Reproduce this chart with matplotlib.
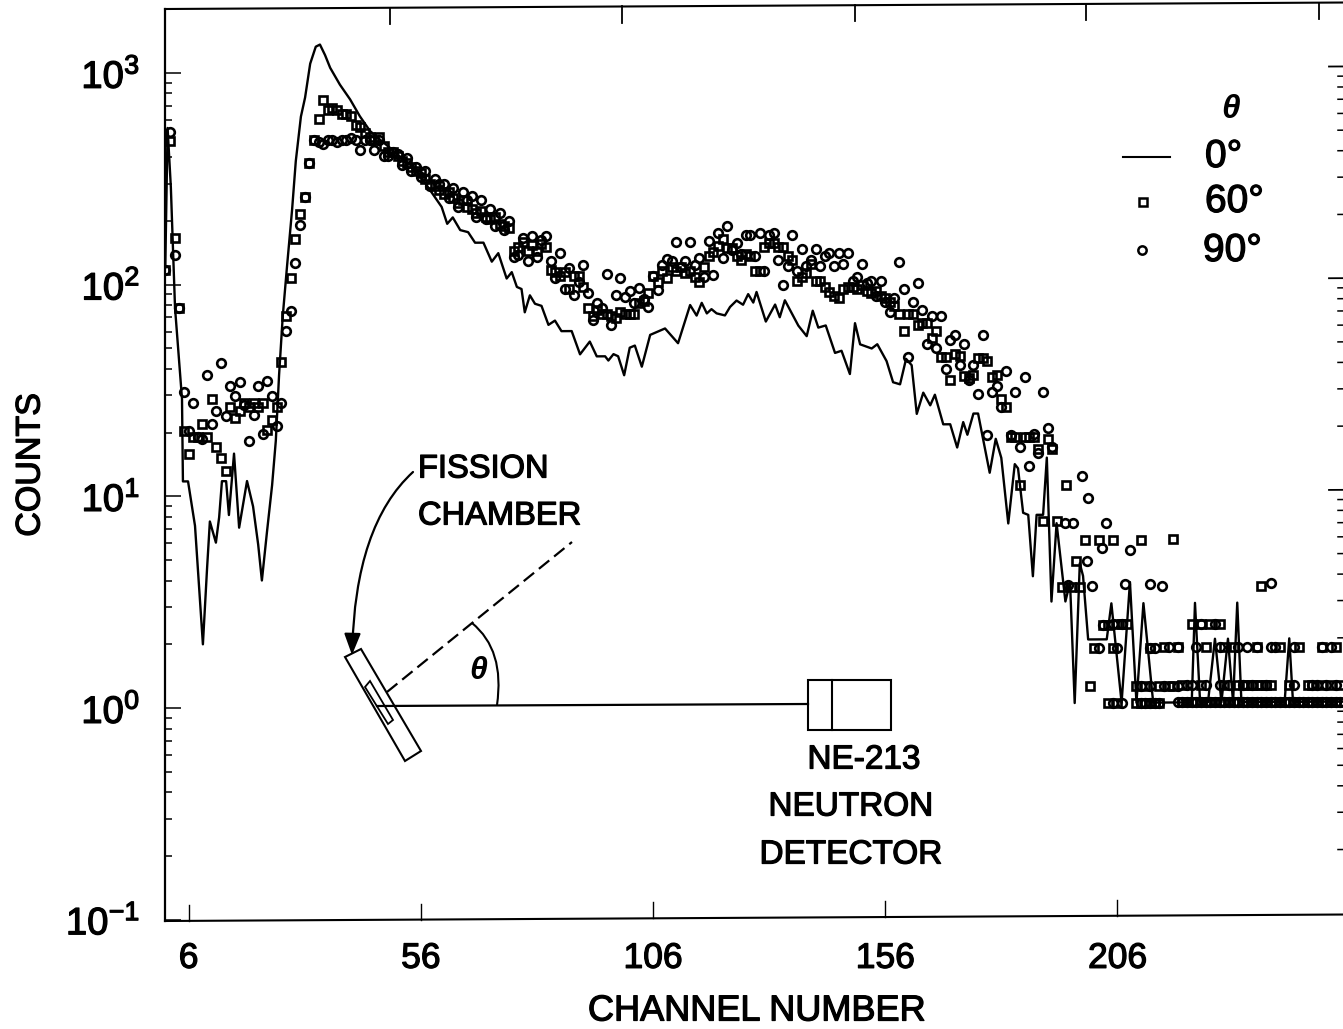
import matplotlib
matplotlib.use('Agg')
import matplotlib.pyplot as plt
import matplotlib.patheffects as pe
import numpy as np
from matplotlib.path import Path
from matplotlib.patches import FancyArrowPatch, PathPatch, Polygon, Rectangle
from matplotlib.ticker import LogLocator, NullFormatter
from matplotlib.transforms import Affine2D

plt.rcParams['font.family'] = ['Liberation Sans', 'DejaVu Sans']
plt.rcParams['mathtext.fontset'] = 'custom'
plt.rcParams['mathtext.rm'] = 'Liberation Sans'
plt.rcParams['mathtext.default'] = 'regular'

# 0 degree curve, read by eye: channel and log10(counts)
line_ch = [1, 1.5, 2.2, 3.1, 4.6, 4.8, 5.9, 7.4, 9.1, 10, 10.6, 11.9, 12.6, 13.2, 14.1, 14.7, 15.8, 16.9,
           18.6, 19.9, 21, 21.8, 22.9, 24, 24.8, 25.5, 26.3, 27.2, 28.3, 29.1, 30.2, 31.1, 32.2, 33.4,
           34.3, 35.4, 36.5, 38.6, 40.8, 42.9, 45.1, 47.2, 49.4, 51.5, 53.7, 55.8, 58, 60.5, 61.7, 62.9,
           64.5, 66.2, 67.7, 69.5, 71.3, 72.7, 74.5, 75.6, 76.7, 77.7, 78.4, 79.5, 80.6, 82, 83.5, 84.9,
           86.3, 88.5, 90.3, 92.4, 93.9, 95.7, 96.4, 97.5, 98.5, 99.8, 101, 102.1, 103.6, 105.4, 108.6,
           111.4, 114, 115.4, 116.5, 117.6, 118.6, 119.7, 121.5, 122.6, 124, 125.4, 126.5, 127.6, 128.3,
           130.3, 132.3, 133.3, 134.4, 137.3, 139.1, 140.4, 141.6, 143.2, 145.2, 146.6, 148.4, 149.5,
           150.6, 153.1, 154.3, 156.3, 157.7, 159.2, 160.5, 161.7, 162.8, 164.2, 165.7, 166.7, 168.5,
           170, 171.5, 172.8, 173.7, 175, 176, 178.5, 179.8, 181, 182.5, 183.9, 184.6, 185.7, 186.8,
           187.8, 188.6, 190, 190.8, 191.8, 192.9, 194.8, 195.8, 196.8, 197.9, 198.6, 199.7, 203.7,
           204.7, 206.9, 208.7, 210.1, 211.6, 213.7, 222, 222.7, 223.8, 225.5, 227, 228.4, 229.8, 230.9,
           231.8, 232.7, 242, 243, 243.8, 254.6]
line_log = [2.08, 2.74, 2.46, 1.89, 1.46, 1.07, 1.07, 0.86, 0.30, 0.66, 0.88, 0.78, 0.90, 1.07, 1.07, 0.91, 1.20, 0.85,
            1.07, 0.95, 0.77, 0.60, 0.83, 1.05, 1.26, 1.57, 1.85, 2.08, 2.35, 2.58, 2.79, 2.88, 3.04, 3.12,
            3.13, 3.08, 3.02, 2.94, 2.87, 2.79, 2.72, 2.68, 2.64, 2.60, 2.56, 2.51, 2.44, 2.36, 2.28, 2.31,
            2.25, 2.24, 2.19, 2.19, 2.10, 2.14, 2.02, 2.05, 1.98, 1.97, 1.86, 1.94, 1.90, 1.89, 1.80, 1.82,
            1.77, 1.77, 1.66, 1.72, 1.65, 1.65, 1.63, 1.66, 1.65, 1.56, 1.69, 1.70, 1.60, 1.75, 1.78,
            1.71, 1.89, 1.84, 1.90, 1.85, 1.87, 1.85, 1.84, 1.88, 1.91, 1.89, 1.94, 1.90, 1.95,
            1.81, 1.89, 1.83, 1.91, 1.79, 1.74, 1.86, 1.78, 1.79, 1.66, 1.67, 1.56, 1.80,
            1.70, 1.68, 1.70, 1.62, 1.52, 1.51, 1.63, 1.60, 1.37, 1.47, 1.41, 1.46, 1.32,
            1.32, 1.21, 1.33, 1.27, 1.37, 1.37, 1.09, 1.25, 1.16, 0.85, 1.13, 1.11, 0.90, 0.89,
            0.60, 0.89, 0.89, 1.16, 0.48, 0.85, 0.48, 0.57, 0.00, 0.66, 0.60, 0.30, 0.30,
            0.47, 0.00, 0.57, 0.00, 0.47, 0.00, 0.00, 0.47, 0.00, 0.00, 0.30, 0.00, 0.30, 0.00,
            0.47, 0.00, 0.00, 0.30, 0.00, 0.00]

# 60 degrees, one value per channel starting at channel 1
sq_log = [2.07, 2.68, 2.22, 1.89, 1.31, 1.20, 1.28, 1.28, 1.34, 1.28,
          1.46, 1.23, 1.18, 1.12, 1.42, 1.37, 1.40, 1.44, 1.42, 1.44,
          1.42, 1.44, 1.31, 1.36, 1.42, 1.63, 1.85, 2.03, 2.21, 2.33,
          2.41, 2.57, 2.68, 2.78, 2.87, 2.82, 2.83, 2.82, 2.80, 2.80,
          2.79, 2.75, 2.74, 2.71, 2.69, 2.68, 2.69, 2.65, 2.62, 2.62,
          2.60, 2.58, 2.57, 2.55, 2.53, 2.52, 2.49, 2.47, 2.46, 2.44,
          2.42, 2.43, 2.40, 2.38, 2.39, 2.36, 2.35, 2.33, 2.34, 2.31,
          2.30, 2.31, 2.28, 2.27, 2.26, 2.15, 2.17, 2.19, 2.15, 2.18,
          2.15, 2.18, 2.17, 2.06, 2.05, 2.03, 2.05, 1.97, 2.03, 2.03,
          1.98, 1.88, 1.84, 1.87, 1.85, 1.85, 1.84, 1.83, 1.86, 1.85,
          1.85, 1.85, 1.90, 1.91, 1.95, 2.03, 2.00, 2.05, 2.02, 2.07,
          2.05, 2.07, 2.04, 2.05, 2.02, 2.00, 2.07, 2.12, 2.14, 2.17,
          2.20, 2.16, 2.16, 2.12, 2.10, 2.13, 2.12, 2.05, 2.05, 2.16,
          2.18, 2.18, 2.16, 2.16, 2.12, 2.10, 2.00, 2.02, 2.04, 2.08,
          2.00, 2.00, 1.97, 1.95, 1.93, 1.92, 1.96, 1.97, 1.97, 1.96,
          1.98, 1.95, 1.94, 1.95, 1.93, 1.92, 1.90, 1.88, 1.84, 1.76,
          1.84, 1.84, 1.79, 1.80, 1.80, 1.73, 1.76, 1.64, 1.64, 1.53,
          1.65, 1.64, 1.55, 1.54, 1.55, 1.63, 1.63, 1.62, 1.54, 1.55,
          1.44, 1.40, 1.26, 1.26, 1.03, 1.26, 1.26, 1.26, 1.20, 0.86,
          1.25, 1.20, 0.86]
sq_tail_ch = [194, 195, 196, 197, 198, 199, 202, 205, 211, 218, 237]
sq_tail_log = [0.55, 1.03, 0.55, 0.67, 0.55, 0.77, 0.77, 0.77, 0.77, 0.77, 0.55]

# 90 degrees
ci_log = [2.07, 2.72, 2.14, 1.89, 1.49, 1.31, 1.44, 1.28, 1.27, 1.57,
          1.34, 1.40, 1.63, 1.38, 1.52, 1.47, 1.54, 1.43, 1.26, 1.38,
          1.52, 1.29, 1.54, 1.47, 1.33, 1.44, 1.78, 1.87, 2.10, 2.28,
          2.41, 2.57, 2.68, 2.67, 2.66, 2.68, 2.68, 2.67, 2.68, 2.68,
          2.69, 2.68, 2.63, 2.68, 2.68, 2.63, 2.68, 2.60, 2.60, 2.62,
          2.61, 2.56, 2.59, 2.53, 2.55, 2.50, 2.53, 2.46, 2.49, 2.47,
          2.47, 2.40, 2.45, 2.36, 2.43, 2.39, 2.41, 2.31, 2.39, 2.30,
          2.35, 2.27, 2.33, 2.25, 2.29, 2.12, 2.13, 2.21, 2.10, 2.22,
          2.12, 2.20, 2.22, 2.10, 2.02, 2.14, 1.97, 2.07, 1.94, 2.00,
          2.08, 1.95, 1.82, 1.90, 1.88, 2.04, 1.80, 1.94, 2.02, 1.93,
          1.96, 1.90, 1.97, 1.92, 1.88, 2.03, 1.96, 2.08, 2.11, 2.10,
          2.19, 2.07, 2.10, 2.19, 2.08, 2.11, 2.02, 2.19, 2.03, 2.23,
          2.11, 2.26, 2.15, 2.18, 2.13, 2.22, 2.22, 2.12, 2.23, 2.05,
          2.22, 2.23, 2.10, 1.98, 2.07, 2.22, 2.05, 2.15, 2.07, 2.10,
          2.15, 2.07, 2.12, 2.13, 2.07, 2.13, 2.08, 2.13, 2.00, 2.02,
          2.08, 1.99, 2.00, 1.93, 2.00, 1.90, 1.85, 1.92, 2.09, 1.96,
          1.64, 1.90, 1.99, 1.86, 1.70, 1.83, 1.68, 1.83, 1.58, 1.72,
          1.74, 1.60, 1.70, 1.53, 1.60, 1.46, 1.74, 1.27, 1.47, 1.50,
          1.40, 1.57, 1.27, 1.47, 1.21, 1.54, 1.12, 1.27, 1.18, 1.47,
          1.30, 1.21]
ci_tail_ch = [194.7, 195.4, 196.5, 198.4, 199.4, 199.7, 200.5, 202.7, 203.6, 207.6, 208.7, 213, 215.6, 239]
ci_tail_log = [0.85, 0.56, 0.85, 1.07, 0.67, 0.97, 0.55, 0.73, 0.85, 0.56, 0.72, 0.56, 0.55, 0.56]

# the low counts sit on discrete levels, channels listed per level
low_levels = [0.0, 0.08, 0.26, 0.37]
sq_low_ch = [
    [204, 206, 210, 211, 212, 213, 214, 215, 220, 221, 222, 223, 224, 225, 226, 227, 228, 229, 230, 231, 232, 233,
     234, 235, 236, 237, 238, 239, 240, 241, 242, 243, 244, 245, 246, 247, 248, 249, 250, 251, 252, 253, 254],
    [200, 210, 212, 215, 217, 218, 220, 224, 229, 232, 233, 234, 235, 236, 237, 238, 239, 243, 247, 248, 250, 252, 254],
    [201, 205, 213, 216, 219, 225, 229, 231, 236, 241, 245, 250, 253],
    [203, 204, 206, 207, 208, 222, 224, 226, 228]]
ci_low_ch = [
    [205, 207, 211, 212, 213, 214, 215, 219, 220, 221, 222, 223, 224, 225, 226, 227, 228, 229, 230, 231, 232, 233,
     234, 235, 236, 237, 238, 239, 240, 241, 242, 243, 244, 245, 246, 247, 248, 249, 250, 251, 252, 253, 254],
    [211, 213, 216, 219, 221, 222, 225, 228, 230, 233, 235, 238, 244, 248, 249, 251, 253],
    [202, 206, 213, 214, 217, 219, 223, 228, 232, 234, 236, 239, 240, 244, 250, 252],
    [203, 205, 207, 224, 227]]

x_ticks = [6, 56, 106, 156, 206]
x_ticks_top = [49.4, 99.4, 149.4, 199.3, 249.3]
y_ticks = [0.1, 1, 10, 100, 1000]
y_labels = ['$10^{-1}$', '$10^{0}$', '$10^{1}$', '$10^{2}$', '$10^{3}$']

W, H = 1343, 1029
fig = plt.figure(figsize=(W / 100, H / 100), dpi=100)
ax = fig.add_axes([165 / W, 108 / H, 1180 / W, 912 / H])
x0, x1 = 0.94, 255.0
y0, y1 = 10 ** -1.006, 10 ** 3.302
ax.set_xlim(x0, x1)
ax.set_ylim(y0, y1)
ax.set_yscale('log')

# the scanned page is slightly rotated, so everything on it leans up to the right
lean = 0.0055
tr = ax.transData + Affine2D.from_values(1, lean, 0, 1, 0, -lean * 165)

sq_style = dict(marker='s', ls='none', mfc='none', mec='k', ms=5.6, mew=1.9, transform=tr, clip_on=True)
ci_style = dict(marker='o', ls='none', mfc='none', mec='k', ms=6.2, mew=1.9, transform=tr, clip_on=True)

ax.plot(line_ch, 10 ** np.array(line_log), color='k', lw=1.7, transform=tr)
ax.plot(np.arange(1, len(sq_log) + 1), 10 ** np.array(sq_log), **sq_style)
ax.plot(sq_tail_ch, 10 ** np.array(sq_tail_log), **sq_style)
ax.plot(np.arange(1, len(ci_log) + 1), 10 ** np.array(ci_log), **ci_style)
ax.plot(ci_tail_ch, 10 ** np.array(ci_tail_log), **ci_style)
for level, sq_ch, ci_ch in zip(low_levels, sq_low_ch, ci_low_ch):
    ax.plot(sq_ch, [10 ** level] * len(sq_ch), **sq_style)
    ax.plot(ci_ch, [10 ** level] * len(ci_ch), **ci_style)

# frame and ticks that follow the lean
for side in ['top', 'bottom', 'right']:
    ax.spines[side].set_visible(False)
ax.spines['left'].set_linewidth(1.6)
frame = dict(color='k', lw=1.5, transform=tr, clip_on=False)
ax.plot([x0, x1], [y0, y0], **frame)
ax.plot([x0, x1], [y1, y1], **frame)
tick_up = 10 ** (16 / 211)
for c in x_ticks:
    ax.plot([c, c], [y0, y0 * tick_up], color='k', lw=1.0, transform=tr, clip_on=False)
for c in x_ticks_top:
    ax.plot([c, c], [y1, y1 / tick_up], color='k', lw=1.3, transform=tr, clip_on=False)
for d in [1, 10, 100, 1000]:
    ax.plot([x1 - 16 / 4.645, x1], [d, d], color='k', lw=1.3, transform=tr, clip_on=False)
for d in [0.1, 1, 10, 100]:
    for m in range(2, 10):
        ax.plot([x1 - 7 / 4.645, x1], [d * m, d * m], color='k', lw=1.1, transform=tr, clip_on=False)

# the typewriter-like lettering of the original is heavier than the regular face
heavy = [pe.withStroke(linewidth=0.9, foreground='k')]

ax.set_xticks(x_ticks)
ax.set_xticklabels([str(c) for c in x_ticks], fontsize=25.5, path_effects=heavy)
ax.tick_params(axis='x', length=0, pad=15)
ax.set_yticks(y_ticks)
ax.set_yticklabels(y_labels, fontsize=27.5, path_effects=heavy)
ax.yaxis.set_minor_locator(LogLocator(base=10, subs=range(2, 10), numticks=20))
ax.yaxis.set_minor_formatter(NullFormatter())
ax.tick_params(axis='y', which='major', direction='in', length=11.5, width=1.1, pad=18)
ax.tick_params(axis='y', which='minor', direction='in', length=5, width=1.1)

# labels, legend and the sketch of the set-up, in picture pixels
ov = fig.add_axes([0, 0, 1, 1], zorder=5)
ov.set_xlim(0, W)
ov.set_ylim(H, 0)
ov.axis('off')
ov.patch.set_alpha(0)

ov.text(757, 1011, 'CHANNEL NUMBER', fontsize=26, ha='center', va='center', path_effects=heavy)
ov.text(31, 465, 'COUNTS', fontsize=24.5, rotation=90, ha='center', va='center', path_effects=heavy)

# legend
ov.text(1231, 110, 'θ', fontsize=24, style='italic', weight='bold', ha='center', va='center')
ov.plot([1123, 1170], [157, 157], color='k', lw=1.5)
ov.plot([1143], [202], marker='s', mfc='none', mec='k', ms=5.4, mew=1.8)
ov.plot([1142], [250], marker='o', mfc='none', mec='k', ms=6, mew=1.8)
ov.text(1205, 157, '0°', fontsize=28, ha='left', va='center', path_effects=heavy)
ov.text(1205, 202, '60°', fontsize=28, ha='left', va='center', path_effects=heavy)
ov.text(1203, 251, '90°', fontsize=28, ha='left', va='center', path_effects=heavy)

# fission chamber
ov.add_patch(Polygon([(345, 657), (361, 649), (421, 751), (405, 761)], closed=True, fill=False, ec='k', lw=1.5))
ov.add_patch(Polygon([(365, 687), (370, 681), (393, 720), (388, 724)], closed=True, fill=False, ec='k', lw=1.3))
ov.plot([377, 808], [706, 704], color='k', lw=1.6)
ov.plot([387, 572], [692, 542], color='k', lw=1.6, dashes=(6, 2.8))
ov.add_patch(PathPatch(Path([(472, 623), (505, 650), (497, 705)], [Path.MOVETO, Path.CURVE3, Path.CURVE3]),
                       fill=False, ec='k', lw=1.5))
ov.add_patch(FancyArrowPatch(path=Path([(413, 472), (355, 525), (352, 655)],
                                       [Path.MOVETO, Path.CURVE3, Path.CURVE3]),
                             arrowstyle='-|>,head_length=13,head_width=5', color='k', lw=1.6,
                             shrinkA=0, shrinkB=0))
ov.text(478, 671, 'θ', fontsize=23, style='italic', weight='bold', ha='center', va='center')

# detector
ov.add_patch(Rectangle((808, 680), 83, 50, fill=False, ec='k', lw=1.5))
ov.plot([832, 832], [680, 730], color='k', lw=1.5)

ov.text(418, 469, 'FISSION', fontsize=23.5, ha='left', va='center', path_effects=heavy)
ov.text(418, 516, 'CHAMBER', fontsize=23.5, ha='left', va='center', path_effects=heavy)
ov.text(864, 760, 'NE-213', fontsize=24, ha='center', va='center', path_effects=heavy)
ov.text(851, 807, 'NEUTRON', fontsize=24, ha='center', va='center', path_effects=heavy)
ov.text(851, 855, 'DETECTOR', fontsize=24, ha='center', va='center', path_effects=heavy)

fig.savefig('out.png', dpi=100)
